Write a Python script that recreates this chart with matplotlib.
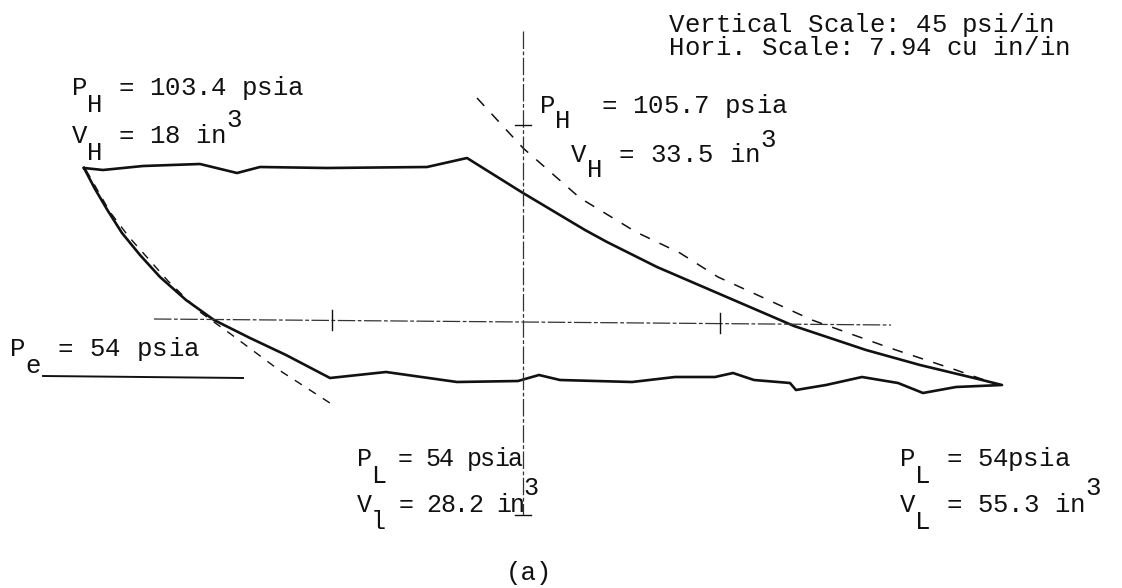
import numpy as np
import matplotlib.pyplot as plt

# indicator diagram, in picture pixels (x right, y down)
top_x = [84, 103, 143, 200, 237, 260, 327, 427, 467]
top_y = [168, 170, 166, 164, 173, 167, 168, 167, 158]

exp_x = [467, 523, 585, 607, 657, 722, 794, 866, 920, 974, 1002]
exp_y = [158, 193, 230, 242, 267, 295, 326, 350, 365, 378, 385]

bot_x = [1002, 956, 923, 898, 862, 826, 796, 790, 754, 733, 715, 675, 632, 560,
         539, 518, 457, 386, 330]
bot_y = [385, 387, 393, 383, 377, 385, 390, 383, 380, 373, 377, 377, 382, 380,
         375, 381, 382, 372, 378]

comp_x = [330, 286, 250, 214, 186, 160, 140, 122, 108, 95, 84]
comp_y = [378, 355, 338, 320, 300, 277, 255, 233, 211, 189, 168]

# dashed reference curves
dl_x = [86, 110, 129, 168, 200, 232, 279, 333]
dl_y = [170, 212, 237, 281, 312, 335, 370, 405]
dr_x = [477, 523, 580, 636, 680, 718, 812, 890, 956, 990]
dr_y = [98, 148, 198, 232, 253, 277, 320, 348, 370, 382]

# construction lines
hax_x = [154, 891]
hax_y = [319, 325]
hticks = [(332, 320), (720, 323)]
vax_x = [523, 523]
vax_y = [31, 515]
vticks = [(523, 125), (523, 515)]
pe_x = [43, 243]
pe_y = [376, 378]

fig = plt.figure(figsize=(11.22, 5.88), dpi=100)
ax = fig.add_axes([0, 0, 1, 1])
ax.set_xlim(0, 1122)
ax.set_ylim(588, 0)
ax.axis('off')

ink = '#111111'
cyc_x = top_x + exp_x[1:] + bot_x[1:] + comp_x[1:]
cyc_y = top_y + exp_y[1:] + bot_y[1:] + comp_y[1:]
ax.plot(cyc_x, cyc_y, color=ink, lw=1.9, solid_joinstyle='round')

ax.plot(dl_x, dl_y, color=ink, lw=1.0, linestyle=(0, (6, 6)))
ax.plot(dr_x, dr_y, color=ink, lw=1.1, linestyle=(0, (7, 7)))

ax.plot(hax_x, hax_y, color='#333333', lw=0.9, linestyle=(0, (14, 2, 3, 2)))
ax.plot(vax_x, vax_y, color='#333333', lw=0.9, linestyle=(0, (14, 2, 3, 2)))
for x, y in hticks:
    ax.plot([x, x], [y - 10, y + 10], color=ink, lw=1.0)
for x, y in vticks:
    ax.plot([x - 8, x + 8], [y, y], color=ink, lw=1.0)
ax.plot(pe_x, pe_y, color=ink, lw=1.4)


def typed(x, y, parts, fs=18.5, pitch=None):
    # typewriter style: every character sits in its own cell
    if pitch is None:
        pitch = 0.6 * fs * 100 / 72
    col = 0
    for txt, dy in parts:
        for ch in txt:
            if ch != ' ':
                ax.text(x + col * pitch, y + dy, ch, fontsize=fs,
                        family='Liberation Mono', color=ink,
                        va='baseline', ha='left')
            col += 1


typed(669, 32, [("Vertical Scale: 45 psi/in", 0)])
typed(669, 55, [("Hori. Scale: 7.94 cu in/in", 0)])

typed(72, 95, [("P", 0), ("H", 17), (" = 103.4 psia", 0)])
typed(72, 143, [("V", 0), ("H", 17), (" = 18 in", 0), ("3", -16)])

typed(540, 113, [("P", 0), ("H", 15), ("  = 105.7 psia", 0)])
typed(571, 162, [("V", 0), ("H", 15), (" = 33.5 in", 0), ("3", -15)], pitch=15.8)

typed(10, 356, [("P", 0), ("e", 17), (" = 54 psia", 0)], pitch=15.8)

typed(357, 466, [("P", 0), ("L", 17), (" = 54 psia", 0)], fs=18, pitch=13.7)
typed(357, 512, [("V", 0), ("l", 17), (" = 28.2 in", 0), ("3", -17)],
      fs=18, pitch=13.9)

typed(900, 466, [("P", 0), ("L", 17), (" = 54psia", 0)])
typed(900, 512, [("V", 0), ("L", 17), (" = 55.3 in", 0), ("3", -17)])

ax.text(529, 580, "(a)", fontsize=18.5, family='Liberation Mono', color=ink,
        va='baseline', ha='center')

fig.savefig('out.png', dpi=100)
